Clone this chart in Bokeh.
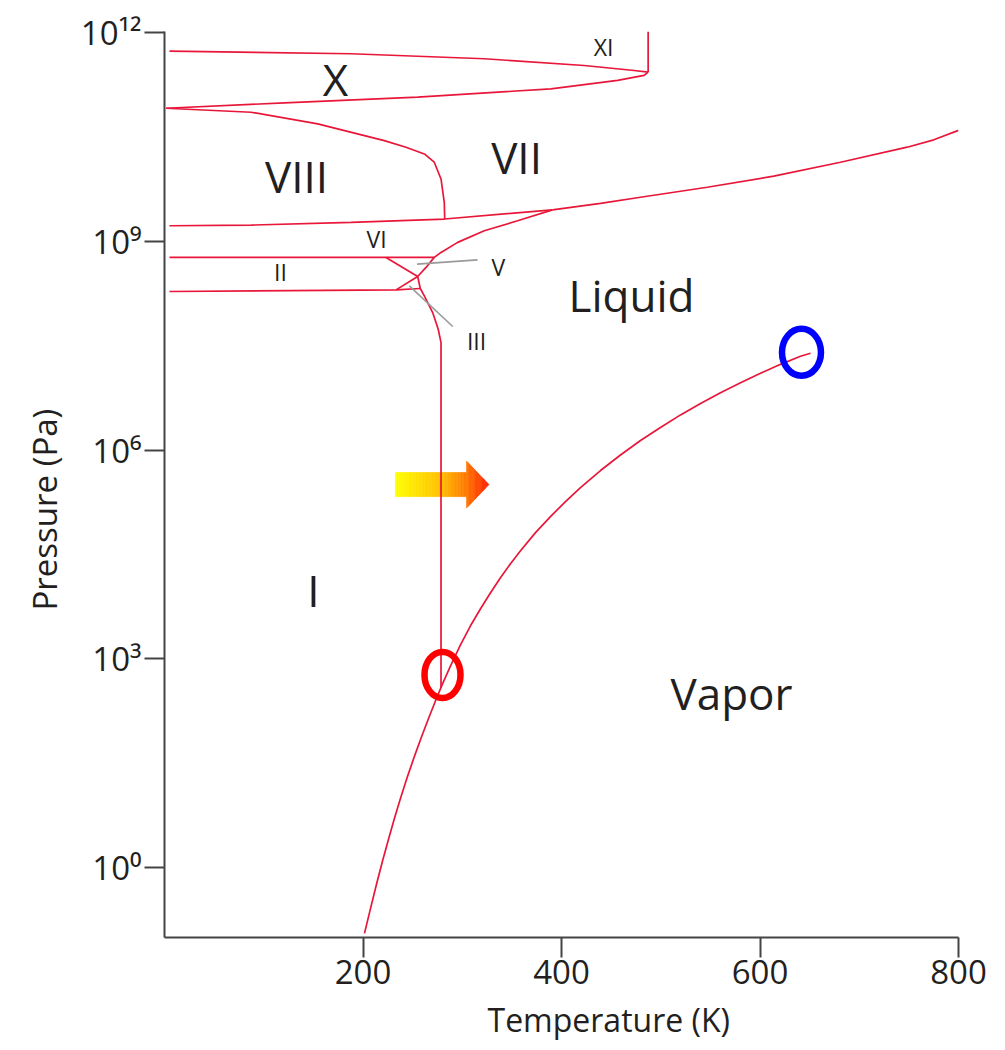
import numpy as np
from bokeh.plotting import figure
from bokeh.models import FixedTicker, CustomJSTickFormatter, Title
from bokeh.core.properties import value
from bokeh.embed import file_html
from bokeh.resources import INLINE

# ---------------- data (temperature K, log10 pressure Pa) ----------------
vap_T = [201.5, 207.6, 213.6, 219.6, 225.7, 231.7, 237.8, 244.8, 251.9, 258.9, 266.0,
         273.0, 280.1, 288.2, 298.2, 308.3, 318.4, 328.5, 338.5, 348.6, 358.7, 373.8,
         388.9, 404.0, 419.1, 439.3, 459.4, 479.6, 499.7, 519.9, 540.1, 560.2, 580.4,
         600.5, 620.7, 640.8, 650.9]
vap_L = [-0.951, -0.591, -0.245, 0.086, 0.403, 0.706, 0.994, 1.304, 1.599, 1.873, 2.140,
         2.392, 2.637, 2.896, 3.199, 3.473, 3.718, 3.948, 4.164, 4.366, 4.553, 4.813,
         5.043, 5.259, 5.461, 5.706, 5.929, 6.138, 6.326, 6.506, 6.671, 6.823, 6.967,
         7.104, 7.233, 7.349, 7.392]

melt_T = [278.6, 278.6, 278.6, 275.8, 270.2, 261.8, 257.7, 255.1, 263.5, 271.8, 278.6,
          295.4, 322.2, 355.8, 390.9]
melt_L = [2.58, 7.161, 7.546, 7.738, 7.978, 8.218, 8.324, 8.497, 8.627, 8.771, 8.843,
          8.987, 9.154, 9.298, 9.455]

vii_T = [390.9, 439.3, 479.6, 546.8, 613.9, 681.1, 748.3, 775.1, 800.0]
vii_L = [9.455, 9.549, 9.636, 9.780, 9.939, 10.140, 10.356, 10.462, 10.598]

vi_top_T = [5.0, 87.3, 188.0, 282.3, 390.9]
vi_top_L = [9.226, 9.236, 9.275, 9.323, 9.455]

viii_T = [1.7, 87.3, 154.4, 221.5, 243.3, 261.8, 271.8, 278.6, 281.9, 282.3]
viii_L = [10.916, 10.859, 10.692, 10.451, 10.355, 10.259, 10.140, 9.899, 9.563, 9.323]

xlow_T = [1.7, 120.8, 255.1, 389.3, 456.5, 483.2, 487.3]
xlow_L = [10.916, 10.994, 11.076, 11.196, 11.316, 11.388, 11.437]

xup_T = [5.0, 188.0, 322.2, 422.8, 473.2, 487.3]
xup_L = [11.739, 11.700, 11.628, 11.531, 11.459, 11.437]

xi_T = [487.3, 487.3]
xi_L = [11.437, 12.02]

vi_ii_T = [5.0, 271.8]
vi_ii_L = [8.771, 8.771]

i_ii_T = [5.0, 233.3, 257.7]
i_ii_L = [8.281, 8.304, 8.324]

ii_v_T = [223.2, 255.1]
ii_v_L = [8.771, 8.497]

ii_iii_T = [233.3, 255.1]
ii_iii_L = [8.304, 8.497]

lead_v_T = [254.5, 315.4]
lead_v_L = [8.674, 8.736]
lead_iii_T = [246.7, 290.4]
lead_iii_L = [8.362, 7.777]

big_labels = ["X", "VIII", "VII", "Liquid", "Vapor", "I"]
big_T = [172.3, 133.0, 354.7, 470.5, 571.3, 150.1]
big_L = [11.34, 9.94, 10.216, 8.228, 2.507, 3.991]

small_labels = ["XI", "VI", "II", "V", "III"]
small_T = [442.3, 213.6, 116.9, 336.5, 314.4]
small_L = [11.80, 9.035, 8.559, 8.631, 7.565]

triple_T, triple_L = 280.1, 2.767
critical_T, critical_L = 641.8, 7.406

x_ticks = [200, 400, 600, 800]
y_ticks = [1, 1e3, 1e6, 1e9, 1e12]

# arrow (T range and log P)
arrow_T0, arrow_Tb, arrow_Tt = 232.7, 304.3, 326.8
arrow_Lc, arrow_hb, arrow_hh = 5.504, 0.173, 0.3385

# ---------------- figure ----------------
FONT = "Open Sans"
RED = "#e8173a"
TXT = "#231f20"

def P(L):
    return [10 ** v for v in L]

p = figure(width=993, height=1050, x_range=(0, 800), y_range=(10 ** -1.01, 10 ** 12.02),
           y_axis_type="log", output_backend="svg", toolbar_location=None,
           min_border_left=164, min_border_right=35, min_border_top=31, min_border_bottom=113)
p.grid.visible = False
p.outline_line_color = None
p.background_fill_color = "white"

for ax in (p.xaxis, p.yaxis):
    ax.axis_line_color = "#444444"
    ax.axis_line_width = 2
    ax.major_tick_line_color = "#444444"
    ax.major_tick_line_width = 2
    ax.major_tick_in = 0
    ax.major_tick_out = 20
    ax.minor_tick_line_color = None
    ax.major_label_text_font = FONT
    ax.major_label_text_font_size = "33px"
    ax.major_label_text_color = TXT

p.xaxis.ticker = FixedTicker(ticks=x_ticks)
p.yaxis.ticker = FixedTicker(ticks=y_ticks)
p.xaxis.major_label_standoff = 2
p.yaxis.major_label_standoff = 3
p.yaxis.formatter = CustomJSTickFormatter(code="""
const sup = {"0":"\\u2070","1":"\\u00b9","2":"\\u00b2","3":"\\u00b3","4":"\\u2074",
             "5":"\\u2075","6":"\\u2076","7":"\\u2077","8":"\\u2078","9":"\\u2079","-":"\\u207b"};
const e = Math.round(Math.log10(tick));
return "10" + String(e).split("").map(c => sup[c]).join("");
""")

p.add_layout(Title(text="Temperature (K)", align="left", offset=323, text_font=FONT,
                   text_font_size="32px", text_font_style="normal", text_color=TXT,
                   standoff=18), "below")
p.add_layout(Title(text="Pressure (Pa)", align="left", offset=327, text_font=FONT,
                   text_font_size="33px", text_font_style="normal", text_color=TXT,
                   standoff=22), "left")

# arrow with gradient (drawn as thin slices)
def grad_color(f):
    stops = [(0.0, (255, 255, 0)), (0.5, (255, 190, 0)), (0.76, (255, 120, 0)), (1.0, (255, 30, 0))]
    for (f0, c0), (f1, c1) in zip(stops[:-1], stops[1:]):
        if f <= f1:
            t = (f - f0) / (f1 - f0)
            c = [int(round(a + (b - a) * t)) for a, b in zip(c0, c1)]
            return "#%02x%02x%02x" % tuple(c)
    return "#%02x%02x%02x" % stops[-1][1]

xs, ys, cols = [], [], []
span = arrow_Tt - arrow_T0
body_edges = np.linspace(arrow_T0, arrow_Tb, 50)
for a, b in zip(body_edges[:-1], body_edges[1:]):
    xs.append([a, b, b, a])
    ys.append([10 ** (arrow_Lc + arrow_hb)] * 2 + [10 ** (arrow_Lc - arrow_hb)] * 2)
    cols.append(grad_color(((a + b) / 2 - arrow_T0) / span))
head_edges = np.linspace(arrow_Tb, arrow_Tt, 20)
for a, b in zip(head_edges[:-1], head_edges[1:]):
    ha = arrow_hh * (arrow_Tt - a) / (arrow_Tt - arrow_Tb)
    hb = arrow_hh * (arrow_Tt - b) / (arrow_Tt - arrow_Tb)
    xs.append([a, b, b, a])
    ys.append([10 ** (arrow_Lc + ha), 10 ** (arrow_Lc + hb), 10 ** (arrow_Lc - hb), 10 ** (arrow_Lc - ha)])
    cols.append(grad_color(((a + b) / 2 - arrow_T0) / span))
p.patches(xs, ys, fill_color=cols, line_color=cols, line_width=0.6)

# phase boundaries
for T, L in [(vap_T, vap_L), (melt_T, melt_L), (vii_T, vii_L), (vi_top_T, vi_top_L),
             (viii_T, viii_L), (xlow_T, xlow_L), (xup_T, xup_L), (xi_T, xi_L),
             (vi_ii_T, vi_ii_L), (i_ii_T, i_ii_L), (ii_v_T, ii_v_L), (ii_iii_T, ii_iii_L)]:
    p.line(T, P(L), line_color=RED, line_width=1.7)

# leader lines
for T, L in [(lead_v_T, lead_v_L), (lead_iii_T, lead_iii_L)]:
    p.line(T, P(L), line_color="#9a9a9a", line_width=1.6)

# circles at triple and critical points
p.ellipse(x=[triple_T], y=[10 ** triple_L], width=36, height=46,
          width_units="screen", height_units="screen",
          fill_color=None, line_color="#ff0000", line_width=6.5)
p.ellipse(x=[critical_T], y=[10 ** critical_L], width=39, height=47,
          width_units="screen", height_units="screen",
          fill_color=None, line_color="#0000ff", line_width=6.5)

# region labels
p.text(x=big_T, y=P(big_L), text=big_labels, text_font=value(FONT), text_font_size="44px",
       text_align="center", text_baseline="middle", text_color=TXT)
p.text(x=small_T, y=P(small_L), text=small_labels, text_font=value(FONT), text_font_size="23px",
       text_align="center", text_baseline="middle", text_color=TXT)

open("out.html", "w").write(file_html(p, INLINE))
